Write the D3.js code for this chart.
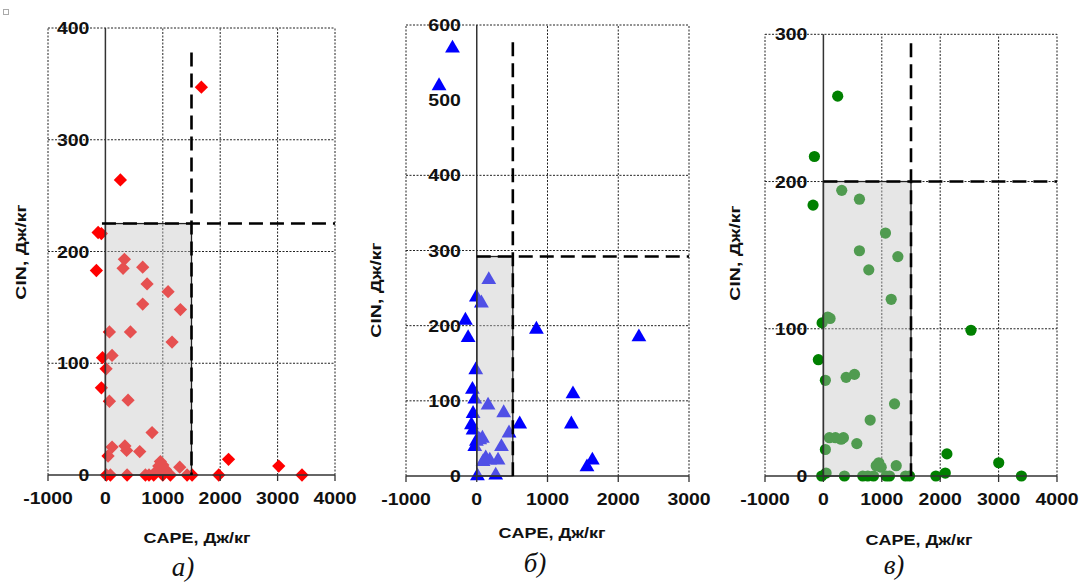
<!DOCTYPE html>
<html><head><meta charset="utf-8">
<script src="https://cdn.jsdelivr.net/npm/d3@7"></script>
<style>
body{margin:0;background:#fff}
svg{display:block}
</style>
</head><body>
<svg id="chart" width="1079" height="583"></svg>
<script>
// ---------- DATA ----------
// Panel а) (red diamonds)
const capeA = [-157,-127,-70,-70,-50,261,1672,2145,3020,3425,1975,1510,
  331,308,650,726,1092,650,1307,70,436,1161,116,12,70,395,813,116,340,370,598,46,
  1295,958,930,1000,1045,900,17,87,378,697,760,842,1132,1423,1000];
const cinA  = [183,217,216,78,105,264,347,14,8,0,0,0,
  193,185,186,171,164,153,148,128,128,119,107,95,66,67,38,25,26,22,21,17,
  7,12,8,9,5,4,0,0,0,0,0,0,0,0,0];
// Panel б) (blue triangles)
const capeB = [-343,-533,-160,-122,843,2292,1360,1337,1634,1558,607,
  -5,66,-14,-61,-28,-52,-75,-52,-28,-5,10,
  170,160,381,456,349,80,42,127,184,301,90,268];
const cinB  = [569,519,207,184,195,185,109,69,21,12,69,
  238,230,141,115,102,83,68,61,39,46,0,
  261,94,84,57,39,50,48,24,21,21,19,1];
// Panel в) (green circles)
const capeC = [245,-154,-177,2527,-86,2115,3002,3391,2087,1926,-29,
  314,617,1063,617,1275,777,1161,74,114,-22,
  34,389,532,1218,801,103,206,303,343,572,34,1247,949,904,990,
  46,360,674,760,858,1075,1132,1407,1475];
const cinC  = [258,217,184,99,79,15,9,0,2,0,0,
  194,188,165,153,149,140,120,108,107,104,
  65,67,69,49,38,26,26,25,26,22,18,7,9,7,6,
  2,0,0,0,0,0,0,0,0];
// thresholds [CAPE, CIN]
const threshA = [1500, 225];
const threshB = [510, 292];
const threshC = [1500, 200];
// ticks
const xTicksA = [-1000,0,1000,2000,3000,4000];
const yTicksA = [0,100,200,300,400];
const xTicksB = [-1000,0,1000,2000,3000];
const yTicksB = [0,100,200,300,400,500,600];
const yGridB  = [0,100,200,300,400,600];
const xTicksC = [-1000,0,1000,2000,3000,4000];
const yTicksC = [0,100,200,300];
const xTitle = "CAPE, Дж/кг";
const yTitle = "CIN, Дж/кг";
const captions = ["а)", "б)", "в)"];

// ---------- LAYOUT ----------
const SANS = "'Liberation Sans', Arial, sans-serif";
const SERIF = "'Liberation Serif', 'Times New Roman', serif";
const svg = d3.select("#chart");
const panels = [
  {cape:capeA, cin:cinA, th:threshA, xt:xTicksA, yt:yTicksA, yg:yTicksA,
   xr:[48,335], yr:[475,28], ymax:400, color:"#ff0000", sym:"diamond",
   vTop:378, hStart:-60, xTitlePos:[197,543], yTitlePos:[20,252], cap:captions[0], capPos:[183,576]},
  {cape:capeB, cin:cinB, th:threshB, xt:xTicksB, yt:yTicksB, yg:yGridB,
   xr:[406,689], yr:[476,25], ymax:600, color:"#0000ff", sym:"triangle",
   vTop:577, hStart:0, xTitlePos:[552,538], yTitlePos:[375,290], cap:captions[1], capPos:[535,572]},
  {cape:capeC, cin:cinC, th:threshC, xt:xTicksC, yt:yTicksC, yg:yTicksC,
   xr:[765,1057], yr:[476,34.3], ymax:300, color:"#008000", sym:"circle",
   vTop:294, hStart:0, xTitlePos:[919,545], yTitlePos:[734,253], cap:captions[2], capPos:[894,574]}
];

// tiny broken-image icon in the corner
svg.append("rect").attr("x",3.5).attr("y",9.5).attr("width",5).attr("height",5)
  .attr("fill","none").attr("stroke","#aaa").attr("stroke-width",1);

panels.forEach(p => {
  const x = d3.scaleLinear().domain([p.xt[0], p.xt[p.xt.length-1]]).range(p.xr);
  const y = d3.scaleLinear().domain([0, p.ymax]).range(p.yr);
  const g = svg.append("g");
  const x0 = x.domain()[0], x1 = x.domain()[1];

  // dotted grid
  const grid = g.append("g").attr("stroke","#222").attr("stroke-width",1)
    .attr("stroke-dasharray","2,1.5").attr("fill","none");
  p.xt.filter(v => v !== 0).forEach(v => {
    grid.append("line").attr("x1",x(v)).attr("x2",x(v)).attr("y1",y(0)).attr("y2",y(p.ymax));
  });
  p.yg.filter(v => v !== 0).forEach(v => {
    grid.append("line").attr("x1",x(x0)).attr("x2",x(x1)).attr("y1",y(v)).attr("y2",y(v));
  });

  // points
  const pts = d3.range(p.cape.length).map(i => [p.cape[i], p.cin[i]]);
  const pg = g.append("g");
  if (p.sym === "circle") {
    pg.selectAll("circle").data(pts).join("circle")
      .attr("cx", d => x(d[0])).attr("cy", d => y(d[1])).attr("r",5.6).attr("fill",p.color);
  } else if (p.sym === "diamond") {
    const path = d3.symbol(d3.symbolSquare, 88)();
    pg.selectAll("path").data(pts).join("path").attr("d",path)
      .attr("transform", d => `translate(${x(d[0])},${y(d[1])}) rotate(45)`).attr("fill",p.color);
  } else {
    const path = d3.symbol(d3.symbolTriangle, 95)();
    pg.selectAll("path").data(pts).join("path").attr("d",path)
      .attr("transform", d => `translate(${x(d[0])},${y(d[1])})`).attr("fill",p.color);
  }

  // shaded threshold box (semi-transparent overlay)
  g.append("rect").attr("x",x(0)).attr("y",y(p.th[1]))
    .attr("width",x(p.th[0])-x(0)).attr("height",y(0)-y(p.th[1]))
    .attr("fill","#c3c3c3").attr("fill-opacity",0.41)
    .attr("stroke","#222").attr("stroke-width",1.3);

  // axes
  g.append("line").attr("x1",x(x0)).attr("x2",x(x1)).attr("y1",y(0)).attr("y2",y(0))
    .attr("stroke","#333").attr("stroke-width",1.5);
  p.xt.forEach(v => {
    g.append("line").attr("x1",x(v)).attr("x2",x(v)).attr("y1",y(0)).attr("y2",y(0)+6)
      .attr("stroke","#333").attr("stroke-width",1.3);
  });
  g.append("line").attr("x1",x(0)).attr("x2",x(0)).attr("y1",y(0)).attr("y2",y(p.ymax))
    .attr("stroke","#333").attr("stroke-width",1.5);

  // dashed threshold lines
  g.append("line").attr("x1",x(p.th[0])).attr("x2",x(p.th[0])).attr("y1",y(p.vTop)).attr("y2",y(0))
    .attr("stroke","#000").attr("stroke-width",2.6).attr("stroke-dasharray","14,7");
  g.append("line").attr("x1",x(p.hStart)).attr("x2",x(x1)).attr("y1",y(p.th[1])).attr("y2",y(p.th[1]))
    .attr("stroke","#000").attr("stroke-width",2.6).attr("stroke-dasharray","14,7");

  // tick labels
  p.xt.forEach(v => {
    g.append("text").attr("transform",`translate(${x(v)},${y(0)+29}) scale(1.08,0.95)`)
      .attr("text-anchor","middle").style("font-family",SANS).attr("font-size",18).attr("font-weight","bold")
      .attr("fill","#111").text(v);
  });
  p.yt.forEach(v => {
    g.append("text").attr("transform",`translate(${x(0)-16},${y(v)+6}) scale(1.08,0.95)`)
      .attr("text-anchor","end").style("font-family",SANS).attr("font-size",18).attr("font-weight","bold")
      .attr("fill","#111").text(v);
  });

  // axis titles
  g.append("text").attr("transform",`translate(${p.xTitlePos[0]},${p.xTitlePos[1]}) scale(1.2,1)`)
    .attr("text-anchor","middle").style("font-family",SANS).attr("font-size",15).attr("font-weight","bold")
    .attr("fill","#111").text(xTitle);
  g.append("text").attr("transform",`translate(${p.yTitlePos[0]+5.5},${p.yTitlePos[1]}) rotate(-90) scale(1.3,1)`)
    .attr("text-anchor","middle").style("font-family",SANS).attr("font-size",15).attr("font-weight","bold")
    .attr("fill","#111").text(yTitle);

  // caption
  g.append("text").attr("x",p.capPos[0]).attr("y",p.capPos[1]).attr("text-anchor","middle")
    .style("font-family",SERIF).style("font-style","italic")
    .attr("font-size",27).attr("fill","#111").text(p.cap);
});
</script>
</body></html>
